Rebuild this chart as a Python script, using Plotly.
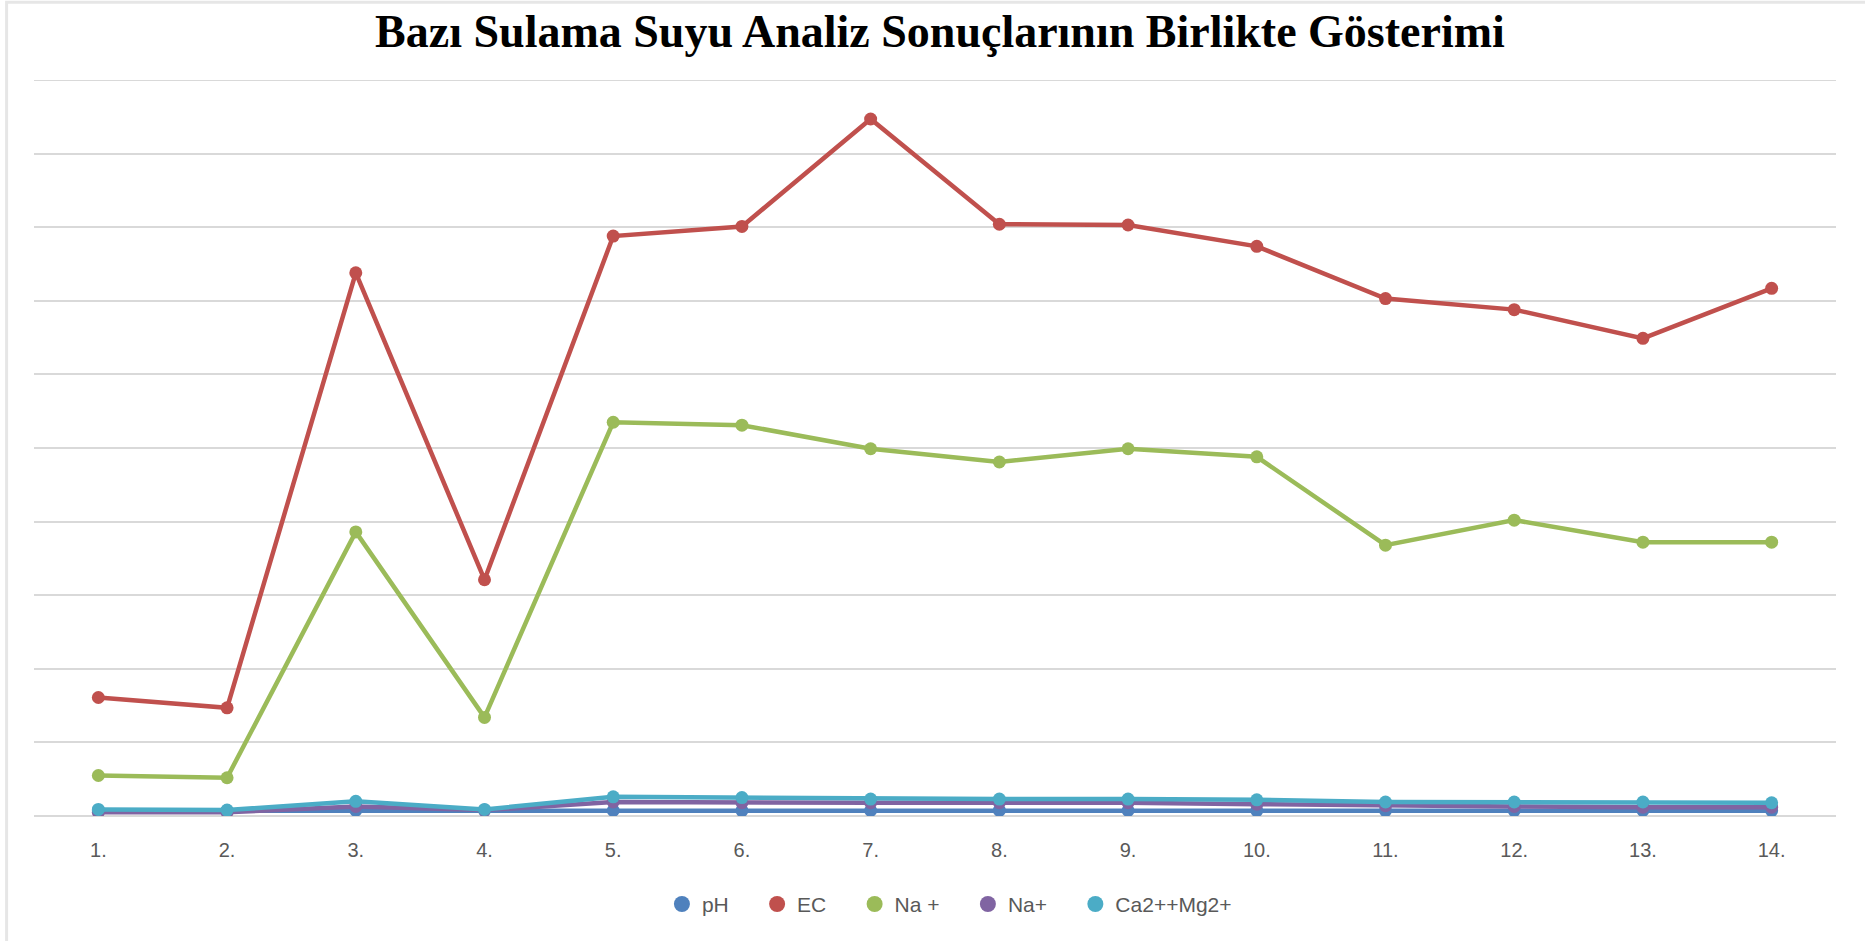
import plotly.graph_objects as go

categories = ["1.", "2.", "3.", "4.", "5.", "6.", "7.", "8.", "9.", "10.", "11.", "12.", "13.", "14."]

ph = [7.2, 7.3, 7.6, 7.4, 7.5, 7.4, 7.5, 7.6, 7.5, 7.4, 7.3, 7.4, 7.5, 7.3]
ec = [161, 147, 738, 321, 788, 801, 947, 804, 803, 774, 703, 688, 649, 717]
na_plus_a = [55, 52, 386, 134, 535, 531, 499, 481, 499, 488, 368, 402, 372, 372]
na_plus_b = [5, 5, 13, 8, 19, 18, 18, 18, 18, 16, 14, 13, 12, 12]
ca_mg = [9, 8, 20, 9, 26, 25, 23, 23, 23, 22, 19, 19, 19, 18]

series_names = ["pH", "EC", "Na +", "Na+", "Ca2++Mg2+"]
series_values = [ph, ec, na_plus_a, na_plus_b, ca_mg]
series_colors = ["#4F81BD", "#C0504D", "#9BBB59", "#8064A2", "#4BACC6"]

PAD = "\u00a0" * 4  # invisible spacing after legend labels

fig = go.Figure()
for name, vals, color in zip(series_names, series_values, series_colors):
    fig.add_trace(go.Scatter(
        x=categories, y=vals, name=name, mode="lines+markers",
        line=dict(color=color, width=4.5),
        marker=dict(color=color, size=13, symbol="circle"),
        showlegend=False,
    ))
# legend entries showing marker symbols only (as in the reference legend)
for i, (name, color) in enumerate(zip(series_names, series_colors)):
    fig.add_trace(go.Scatter(
        x=[None], y=[None],
        name=name + (PAD if i < len(series_names) - 1 else ""),
        mode="markers",
        marker=dict(color=color, size=19, symbol="circle"),
        showlegend=True,
    ))

fig.update_layout(
    width=1865, height=941,
    paper_bgcolor="white", plot_bgcolor="white",
    margin=dict(l=34, r=29, t=80, b=125),
    title=dict(
        text="<b>Bazı Sulama Suyu Analiz Sonuçlarının Birlikte Gösterimi</b>",
        font=dict(family="Liberation Serif", size=46, color="black"),
        x=0.504, xanchor="center", y=0.967, yanchor="middle",
    ),
    showlegend=True,
    legend=dict(
        orientation="h", x=0.508, xanchor="center", y=-0.12, yanchor="middle",
        font=dict(family="Liberation Sans", size=21, color="#595959"),
        itemwidth=30, tracegroupgap=0,
    ),
    xaxis=dict(
        type="category", range=[-0.5, 13.5], showgrid=False, zeroline=False, showline=False,
        ticks="", tickfont=dict(family="Liberation Sans", size=20, color="#595959"),
        ticklabelstandoff=20,
    ),
    yaxis=dict(
        range=[0, 1000], dtick=100, showgrid=True, gridcolor="#d9d9d9", gridwidth=2,
        showticklabels=False, zeroline=True, zerolinecolor="#d9d9d9", zerolinewidth=2,
        showline=False, ticks="",
    ),
    shapes=[
        dict(type="rect", xref="paper", yref="paper",
             x0=-0.0152, x1=1.1, y0=-0.3, y1=1.1056,
             line=dict(color="#e6e6e6", width=3), layer="below"),
        dict(type="line", xref="paper", yref="y", x0=0, x1=1, y0=1000, y1=1000,
             line=dict(color="#d9d9d9", width=2), layer="below"),
    ],
)

fig.write_html("out.html", config={"displayModeBar": False},
               post_script="document.body.style.margin='0';")
